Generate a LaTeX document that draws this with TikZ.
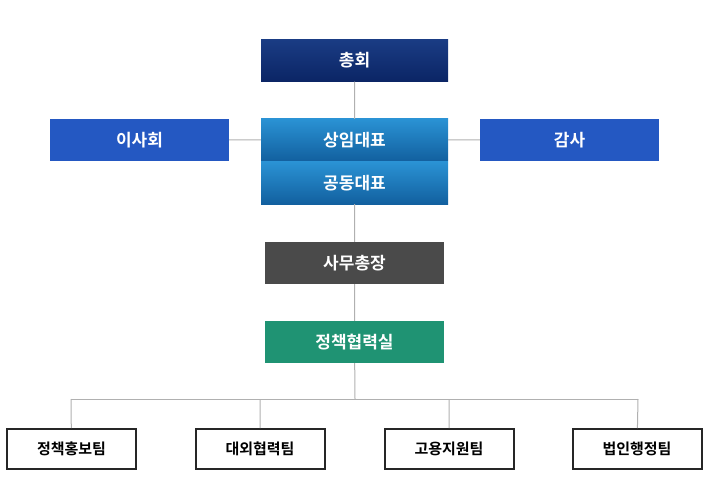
\documentclass[tikz,border=0pt]{standalone}
\usepackage{fontspec}
\newfontfamily\kr{Noto Sans CJK KR}[BoldFont={* Bold}]
\definecolor{navyA}{HTML}{0B2565}\definecolor{navyB}{HTML}{1A3C84}
\definecolor{blueA}{HTML}{2A92D4}\definecolor{blueB}{HTML}{12609F}
\definecolor{side}{HTML}{2458C2}\definecolor{greyb}{HTML}{4A4A4A}
\definecolor{teal}{HTML}{1F9373}\definecolor{ln}{HTML}{B0B0B0}
\begin{document}
\begin{tikzpicture}[x=1pt,y=-1pt,
 box/.style={minimum height=42pt,inner sep=0pt,font=\kr\bfseries\fontsize{17}{20}\selectfont,text=white},
 low/.style={minimum width=129pt,minimum height=40pt,inner sep=0pt,draw=black!85,line width=2pt,fill=white,font=\kr\bfseries\fontsize{15}{18}\selectfont},
 con/.style={draw=ln,line width=1pt}]
\useasboundingbox (0,0) rectangle (714,489);
\coordinate (t) at (355,399);
\coordinate (l1) at (71,399);\coordinate (l2) at (260,399);\coordinate (l3) at (449,399);\coordinate (l4) at (638,399);
\draw[con] (l1)--(l4);
\node[box,minimum width=187pt,top color=navyB,bottom color=navyA] (a) at (354.5,60.5) {총회};
\node[box,minimum width=179pt,fill=side] (b) at (139.5,140) {이사회};
\node[box,minimum width=179pt,fill=side] (c) at (569.5,140) {감사};
\node[box,minimum width=187pt,top color=blueA,bottom color=blueB] (d) at (354.5,140) {상임대표};
\node[box,minimum width=187pt,top color=blueA,bottom color=blueB] (e) at (354.5,183) {공동대표};
\node[box,minimum width=179pt,fill=greyb] (f) at (354.5,263) {사무총장};
\node[box,minimum width=179pt,fill=teal] (g) at (354.5,342) {정책협력실};
\node[low] (h1) at (71.5,449) {정책홍보팀};
\node[low] (h2) at (260,449) {대외협력팀};
\node[low] (h3) at (449,449) {고용지원팀};
\node[low] (h4) at (637,449) {법인행정팀};
\begin{scope}[on background layer/.try]
\end{scope}
\draw[con] (a)--(d) (b)--(d) (d)--(c) (e)--(f) (f)--(g) (g)--(t);
\draw[con] (l1)--(h1) (l2)--(h2) (l3)--(h3) (l4)--(h4);
\end{tikzpicture}
\end{document}
